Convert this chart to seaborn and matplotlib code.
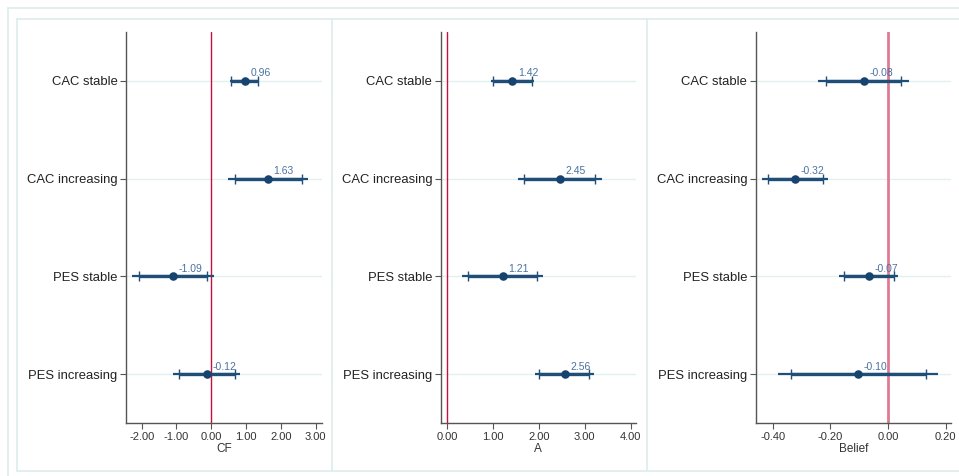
import numpy as np
import pandas as pd
import matplotlib
matplotlib.use("Agg")
import matplotlib.pyplot as plt
from matplotlib.lines import Line2D
import seaborn as sns

categories = ["CAC stable", "CAC increasing", "PES stable", "PES increasing"]

cf_est = [0.96, 1.63, -1.09, -0.12]
cf_lo95 = [0.54, 0.49, -2.27, -1.09]
cf_hi95 = [1.38, 2.79, 0.09, 0.83]
cf_lo90 = [0.56, 0.67, -2.09, -0.93]
cf_hi90 = [1.35, 2.61, -0.11, 0.69]

a_est = [1.42, 2.45, 1.21, 2.56]
a_lo95 = [0.95, 1.54, 0.33, 1.91]
a_hi95 = [1.89, 3.38, 2.09, 3.21]
a_lo90 = [1.00, 1.68, 0.46, 2.00]
a_hi90 = [1.84, 3.23, 1.96, 3.10]

b_est = [-0.084, -0.322, -0.067, -0.103]
b_lo95 = [-0.242, -0.436, -0.169, -0.382]
b_hi95 = [0.072, -0.207, 0.036, 0.175]
b_lo90 = [-0.216, -0.418, -0.153, -0.338]
b_hi90 = [0.047, -0.225, 0.020, 0.132]

xlabels = ["CF", "A", "Belief"]
xticks_list = [[-2, -1, 0, 1, 2, 3], [0, 1, 2, 3, 4], [-0.4, -0.2, 0.0, 0.2]]

sns.set_theme(style="white")
plt.rcParams["font.family"] = ["Liberation Sans", "DejaVu Sans"]

W, H = 959, 476
fig = plt.figure(figsize=(W / 100, H / 100), dpi=100)
fig.patch.set_facecolor("white")

def fx(x):
    return x / W

def fy(y):
    return 1 - y / H

border = "#dcecec"
# outer frame
fig.add_artist(Line2D([fx(8), 1], [fy(8), fy(8)], color=border, lw=1.2))
fig.add_artist(Line2D([fx(8), fx(8)], [fy(8), 0], color=border, lw=1.2))
# panel boxes
fig.add_artist(Line2D([fx(17), 1], [fy(19), fy(19)], color=border, lw=1.2))
fig.add_artist(Line2D([fx(17), 1], [fy(471), fy(471)], color=border, lw=1.2))
for xv in [17, 332, 647]:
    fig.add_artist(Line2D([fx(xv), fx(xv)], [fy(19), fy(471)], color=border, lw=1.2))

panels = [
    (126, 321.7, (-2.45, 3.17), cf_est, cf_lo95, cf_hi95, cf_lo90, cf_hi90, "#c4123c", 1.0),
    (440.7, 636.0, (-0.146, 4.12), a_est, a_lo95, a_hi95, a_lo90, a_hi90, "#c4123c", 1.0),
    (755.7, 951.0, (-0.4595, 0.219), b_est, b_lo95, b_hi95, b_lo90, b_hi90, "#e07a92", 2.0),
]

top, bottom = 31.7, 423.3
line_col = "#1f4e79"
label_col = "#4a72a0"

for i, (l, r, xlim, est, lo95, hi95, lo90, hi90, refcol, reflw) in enumerate(panels):
    ax = fig.add_axes([fx(l), fy(bottom), (r - l) / W, (bottom - top) / H])
    df = pd.DataFrame({"cat": categories, "est": est, "lo95": lo95, "hi95": hi95,
                       "lo90": lo90, "hi90": hi90})
    ypos = np.arange(len(categories))
    for yy in ypos:
        ax.axhline(yy, color="#e2f0f0", lw=1.0, zorder=0)
    ax.axvline(0, color=refcol, lw=reflw, zorder=1)
    ax.hlines(ypos, df["lo95"], df["hi95"], color=line_col, lw=1.6, zorder=2)
    ax.hlines(ypos, df["lo90"], df["hi90"], color=line_col, lw=2.4, zorder=2)
    ax.plot(df["lo90"], ypos, ls="none", marker="|", ms=7, mew=1.0, color=line_col, zorder=3)
    ax.plot(df["hi90"], ypos, ls="none", marker="|", ms=7, mew=1.0, color=line_col, zorder=3)
    sns.scatterplot(data=df, x="est", y="cat", ax=ax, color="#17446e", s=38,
                    edgecolor="#17446e", linewidth=0, zorder=4)
    for yy, v in zip(ypos, est):
        ax.annotate(f"{v:.2f}", (v, yy), xytext=(4, 2), textcoords="offset points",
                    ha="left", va="bottom", fontsize=7.5, color=label_col)
    ax.set_xlim(*xlim)
    ax.set_ylim(3.5, -0.5)
    ax.set_yticks(ypos)
    ax.set_yticklabels(categories, fontsize=9.4, color="#222222")
    ax.set_xticks(xticks_list[i])
    ax.set_xticklabels([f"{t:.2f}" for t in xticks_list[i]], fontsize=8, color="#333333")
    ax.set_xlabel(xlabels[i], fontsize=8.5, color="#333333", labelpad=1)
    ax.set_ylabel("")
    ax.tick_params(axis="both", direction="out", length=4, width=0.8, color="#555555",
                   left=True, bottom=True, pad=2)
    for s in ["top", "right"]:
        ax.spines[s].set_visible(False)
    for s in ["left", "bottom"]:
        ax.spines[s].set_color("#555555")
        ax.spines[s].set_linewidth(1.0)
    ax.set_facecolor("white")
    ax.patch.set_alpha(0)

fig.savefig("out.png", dpi=100, facecolor="white")
